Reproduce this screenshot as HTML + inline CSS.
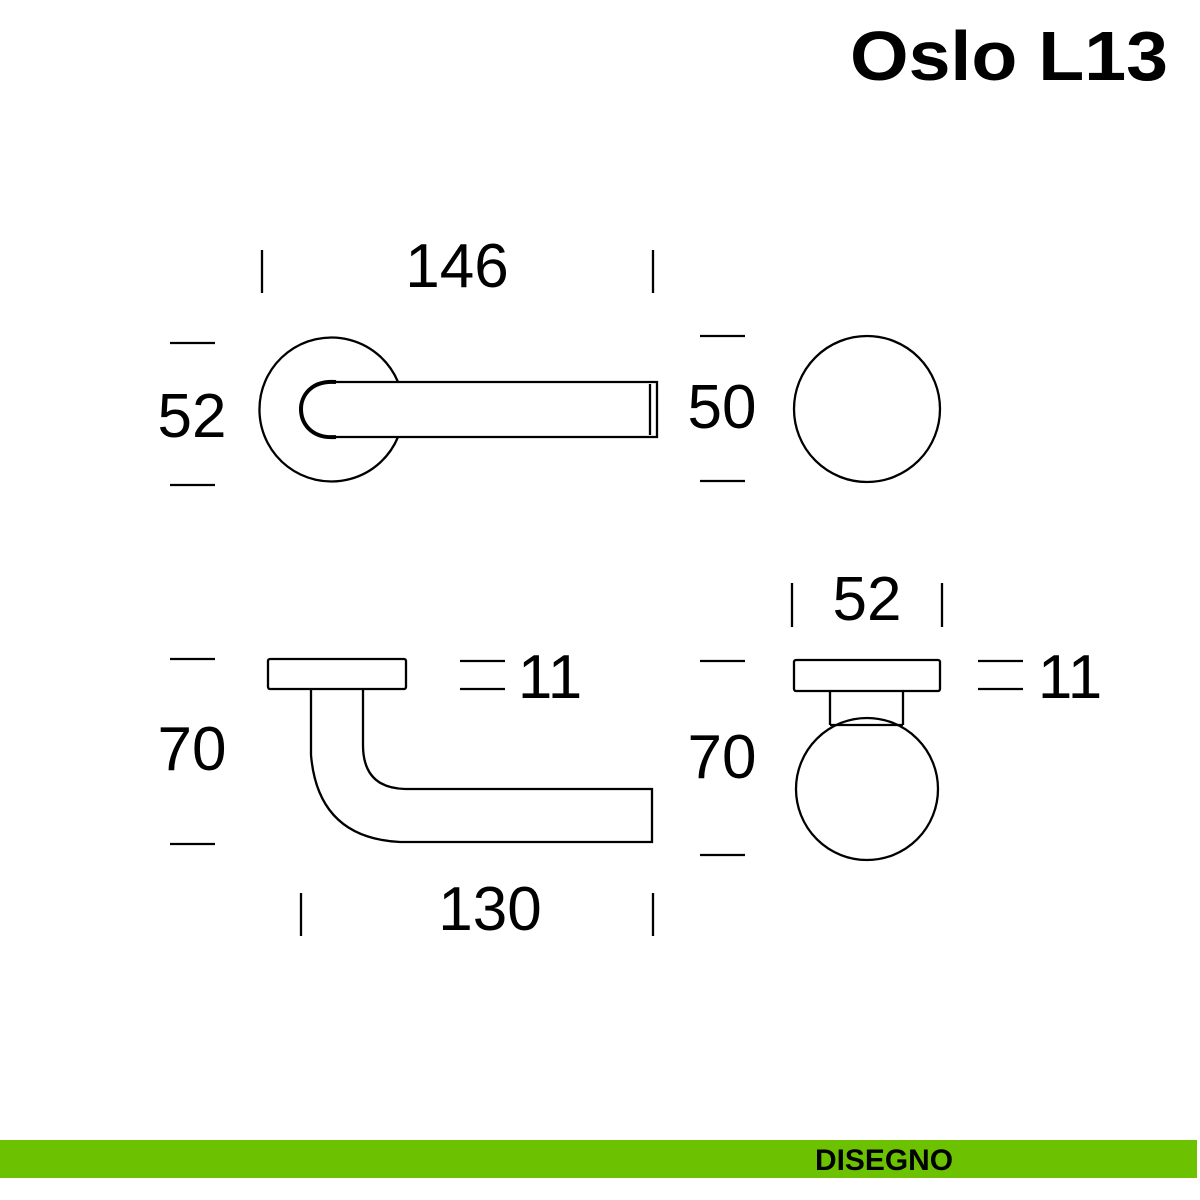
<!DOCTYPE html>
<html><head><meta charset="utf-8"><style>html,body{margin:0;padding:0;background:#fff}svg{display:block}</style></head>
<body>
<svg width="1200" height="1200" viewBox="0 0 1200 1200" xmlns="http://www.w3.org/2000/svg">
<rect width="1200" height="1200" fill="#fff"/>
<text x="1168" y="80" text-anchor="end" font-family="Liberation Sans, sans-serif" font-size="70" font-weight="bold" fill="#000" textLength="318" lengthAdjust="spacingAndGlyphs">Oslo L13</text>
<g stroke="#000" stroke-width="2.3" fill="none">
<path d="M398,382 A72,72 0 1 0 398,437"/>
<path d="M335,382 L657,382 L657,437 L335,437"/>
<line x1="650" y1="384" x2="650" y2="435"/>
<path d="M336,382 C310,380 301,397 301,409 C301,422 310,439 336,437" stroke-width="4"/>
<circle cx="867" cy="409" r="73"/>
<rect x="268" y="659" width="138" height="30" rx="2"/>
<path d="M311,689 L311,755 Q318,838 400,842 L652,842 L652,789 L405,789 Q363,788 363,745 L363,689"/>
<rect x="794" y="660" width="146" height="31" rx="2"/>
<path d="M830,691 L830,725 M903,691 L903,725 M830,725 L903,725"/>
<circle cx="867" cy="789" r="71"/>
<line x1="262" y1="250" x2="262" y2="293"/><line x1="653" y1="250" x2="653" y2="293"/>
<line x1="170" y1="343" x2="215" y2="343"/><line x1="170" y1="485" x2="215" y2="485"/>
<line x1="700" y1="336" x2="745" y2="336"/><line x1="700" y1="481" x2="745" y2="481"/>
<line x1="170" y1="659" x2="215" y2="659"/><line x1="170" y1="844" x2="215" y2="844"/>
<line x1="460" y1="661" x2="505" y2="661"/><line x1="460" y1="689" x2="505" y2="689"/>
<line x1="301" y1="893" x2="301" y2="936"/><line x1="653" y1="893" x2="653" y2="936"/>
<line x1="792" y1="583" x2="792" y2="627"/><line x1="942" y1="583" x2="942" y2="627"/>
<line x1="700" y1="661" x2="745" y2="661"/><line x1="700" y1="855" x2="745" y2="855"/>
<line x1="978" y1="661" x2="1023" y2="661"/><line x1="978" y1="689" x2="1023" y2="689"/>
</g>
<g font-family="Liberation Sans, sans-serif" font-size="62" fill="#000" text-anchor="middle">
<text x="457" y="287">146</text>
<text x="192" y="437">52</text>
<text x="722" y="428">50</text>
<text x="192" y="770">70</text>
<text x="550" y="698">11</text>
<text x="490" y="930">130</text>
<text x="867" y="620">52</text>
<text x="722" y="778">70</text>
<text x="1070" y="698">11</text>
</g>
<rect x="0" y="1140" width="1197" height="38" fill="#6cc200"/>
<text x="815" y="1170" font-family="Liberation Sans, sans-serif" font-size="30" font-weight="bold" fill="#000" textLength="138" lengthAdjust="spacingAndGlyphs">DISEGNO</text>
</svg>
</body></html>
